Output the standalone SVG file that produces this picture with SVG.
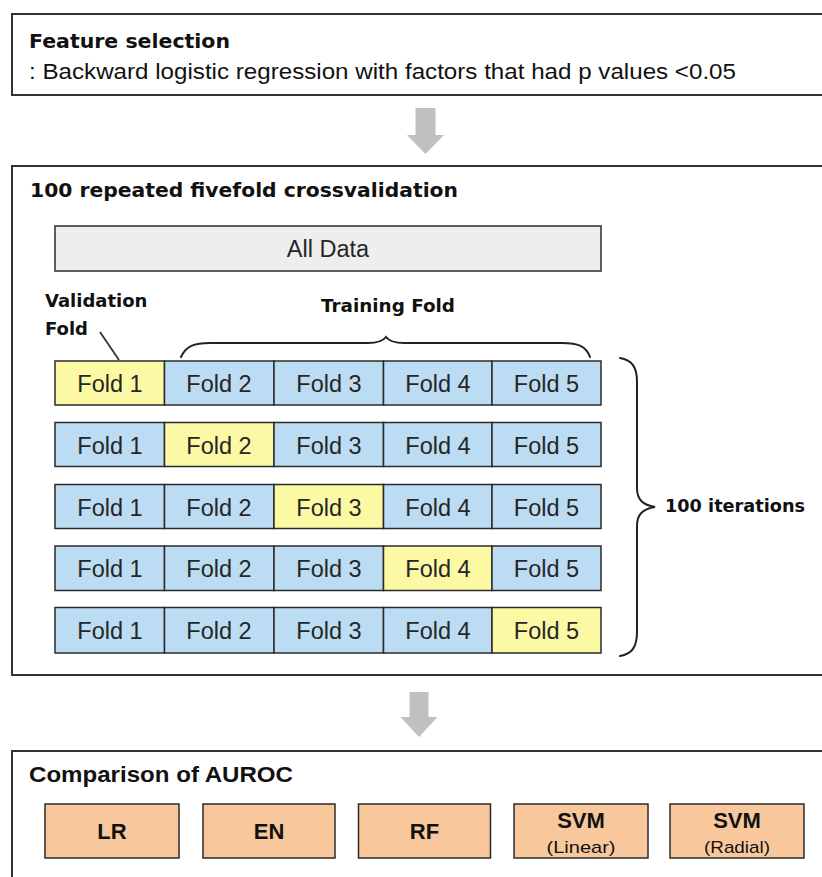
<svg xmlns="http://www.w3.org/2000/svg" width="822" height="877" viewBox="0 0 822 877">
<style>
.frame{fill:#ffffff;stroke:#333333;stroke-width:2}
.cell{stroke:#2b2b2b;stroke-width:1.5}
.blue{fill:#bcdcf4}
.yellow{fill:#fcf9a4}
.orange{fill:#f8c89c;stroke:#2b2b2b;stroke-width:1.5}
.fold{font-family:"Liberation Sans",Arial,sans-serif;font-size:23.5px;fill:#262626;text-anchor:middle}
.title{font-family:"DejaVu Sans",sans-serif;font-weight:bold;font-size:20px;fill:#111111}
.lbl{font-family:"DejaVu Sans",sans-serif;font-weight:bold;font-size:18px;fill:#111111}
.model{font-family:"Liberation Sans",Arial,sans-serif;font-weight:bold;font-size:22px;fill:#111111;text-anchor:middle}
.sub{font-family:"Liberation Sans",Arial,sans-serif;font-size:17px;fill:#111111;text-anchor:middle}
.arrow{fill:#c0c0c0}
.brace{fill:none;stroke:#222222;stroke-width:2;stroke-linecap:round}
</style>
<rect width="822" height="877" fill="#ffffff"/>

<g id="feature-selection">
<rect class="frame" x="12" y="14" width="820" height="81"/>
<text class="title" x="29" y="48" textLength="201" lengthAdjust="spacingAndGlyphs">Feature selection</text>
<text x="29" y="79" font-family="Liberation Sans, Arial, sans-serif" font-size="22" fill="#111111" textLength="707" lengthAdjust="spacingAndGlyphs">: Backward logistic regression with factors that had p values &lt;0.05</text>
</g>

<g id="crossvalidation">
<rect class="frame" x="12" y="166" width="820" height="509"/>
<text class="title" x="30" y="197" textLength="428" lengthAdjust="spacingAndGlyphs">100 repeated fivefold crossvalidation</text>
</g>

<g id="all-data">
<rect x="55" y="226" width="546" height="45" fill="#eeeeee" stroke="#2b2b2b" stroke-width="1.5"/>
<text class="fold" x="328" y="257">All Data</text>
</g>

<g id="validation-fold-label">
<text class="lbl" x="45" y="307">Validation</text>
<text class="lbl" x="45" y="335">Fold</text>
</g>

<g id="training-fold-label">
<text class="lbl" x="321" y="312" textLength="134" lengthAdjust="spacingAndGlyphs">Training Fold</text>
</g>

<g id="iterations-label">
<text class="lbl" x="665" y="512" textLength="140" lengthAdjust="spacingAndGlyphs">100 iterations</text>
</g>

<g id="row1">
<rect class="cell yellow" x="55" y="361" width="109.5" height="44"/>
<rect class="cell blue" x="164.5" y="361" width="109.5" height="44"/>
<rect class="cell blue" x="274" y="361" width="109.5" height="44"/>
<rect class="cell blue" x="383.5" y="361" width="108.5" height="44"/>
<rect class="cell blue" x="492" y="361" width="109" height="44"/>
<text class="fold" x="110" y="392">Fold 1</text>
<text class="fold" x="219" y="392">Fold 2</text>
<text class="fold" x="329" y="392">Fold 3</text>
<text class="fold" x="438" y="392">Fold 4</text>
<text class="fold" x="546.5" y="392">Fold 5</text>
</g>

<g id="row2">
<rect class="cell blue" x="55" y="422.5" width="109.5" height="44"/>
<rect class="cell yellow" x="164.5" y="422.5" width="109.5" height="44"/>
<rect class="cell blue" x="274" y="422.5" width="109.5" height="44"/>
<rect class="cell blue" x="383.5" y="422.5" width="108.5" height="44"/>
<rect class="cell blue" x="492" y="422.5" width="109" height="44"/>
<text class="fold" x="110" y="453.5">Fold 1</text>
<text class="fold" x="219" y="453.5">Fold 2</text>
<text class="fold" x="329" y="453.5">Fold 3</text>
<text class="fold" x="438" y="453.5">Fold 4</text>
<text class="fold" x="546.5" y="453.5">Fold 5</text>
</g>

<g id="row3">
<rect class="cell blue" x="55" y="484.5" width="109.5" height="44"/>
<rect class="cell blue" x="164.5" y="484.5" width="109.5" height="44"/>
<rect class="cell yellow" x="274" y="484.5" width="109.5" height="44"/>
<rect class="cell blue" x="383.5" y="484.5" width="108.5" height="44"/>
<rect class="cell blue" x="492" y="484.5" width="109" height="44"/>
<text class="fold" x="110" y="515.5">Fold 1</text>
<text class="fold" x="219" y="515.5">Fold 2</text>
<text class="fold" x="329" y="515.5">Fold 3</text>
<text class="fold" x="438" y="515.5">Fold 4</text>
<text class="fold" x="546.5" y="515.5">Fold 5</text>
</g>

<g id="row4">
<rect class="cell blue" x="55" y="546" width="109.5" height="44.5"/>
<rect class="cell blue" x="164.5" y="546" width="109.5" height="44.5"/>
<rect class="cell blue" x="274" y="546" width="109.5" height="44.5"/>
<rect class="cell yellow" x="383.5" y="546" width="108.5" height="44.5"/>
<rect class="cell blue" x="492" y="546" width="109" height="44.5"/>
<text class="fold" x="110" y="577">Fold 1</text>
<text class="fold" x="219" y="577">Fold 2</text>
<text class="fold" x="329" y="577">Fold 3</text>
<text class="fold" x="438" y="577">Fold 4</text>
<text class="fold" x="546.5" y="577">Fold 5</text>
</g>

<g id="row5">
<rect class="cell blue" x="55" y="607.5" width="109.5" height="45.5"/>
<rect class="cell blue" x="164.5" y="607.5" width="109.5" height="45.5"/>
<rect class="cell blue" x="274" y="607.5" width="109.5" height="45.5"/>
<rect class="cell blue" x="383.5" y="607.5" width="108.5" height="45.5"/>
<rect class="cell yellow" x="492" y="607.5" width="109" height="45.5"/>
<text class="fold" x="110" y="639">Fold 1</text>
<text class="fold" x="219" y="639">Fold 2</text>
<text class="fold" x="329" y="639">Fold 3</text>
<text class="fold" x="438" y="639">Fold 4</text>
<text class="fold" x="546.5" y="639">Fold 5</text>
</g>

<g id="comparison">
<rect class="frame" x="12" y="751" width="820" height="140"/>
<text x="29" y="782" font-family="Liberation Sans, Arial, sans-serif" font-weight="bold" font-size="22" fill="#111111" textLength="264" lengthAdjust="spacingAndGlyphs">Comparison of AUROC</text>
</g>

<g id="model-lr">
<rect class="orange" x="45" y="804" width="134" height="54"/>
<text class="model" x="112" y="839">LR</text>
</g>
<g id="model-en">
<rect class="orange" x="203" y="804" width="132" height="54"/>
<text class="model" x="269" y="839">EN</text>
</g>
<g id="model-rf">
<rect class="orange" x="358.5" y="804" width="132" height="54"/>
<text class="model" x="424.5" y="839">RF</text>
</g>
<g id="model-svm-linear">
<rect class="orange" x="514" y="804" width="134" height="54"/>
<text class="model" x="581" y="828">SVM</text>
<text class="sub" x="581" y="853" textLength="69" lengthAdjust="spacingAndGlyphs">(Linear)</text>
</g>
<g id="model-svm-radial">
<rect class="orange" x="670" y="804" width="134" height="54"/>
<text class="model" x="737" y="828">SVM</text>
<text class="sub" x="737" y="853" textLength="66" lengthAdjust="spacingAndGlyphs">(Radial)</text>
</g>

<g id="connectors">
<polygon class="arrow" points="415.5,108 435.5,108 435.5,135 444,135 425.5,154 407,135 415.5,135"/>
<polygon class="arrow" points="409.5,692 428.5,692 428.5,717 437.5,717 419,737 400.5,717 409.5,717"/>
<line x1="100" y1="332" x2="119" y2="360" stroke="#333333" stroke-width="1.8"/>
<path class="brace" d="M181,357 C186,346 194,343 210,343 L368,343 C378,343 383,341 386,337 C389,341 394,343 404,343 L562,343 C578,343 586,346 590,357"/>
<path class="brace" d="M620,358 C632,360 637,367 637,382 L637,488 C637,500 643,505 655,507 C643,509 637,514 637,526 L637,632 C637,647 632,654 620,656"/>
</g>
</svg>
